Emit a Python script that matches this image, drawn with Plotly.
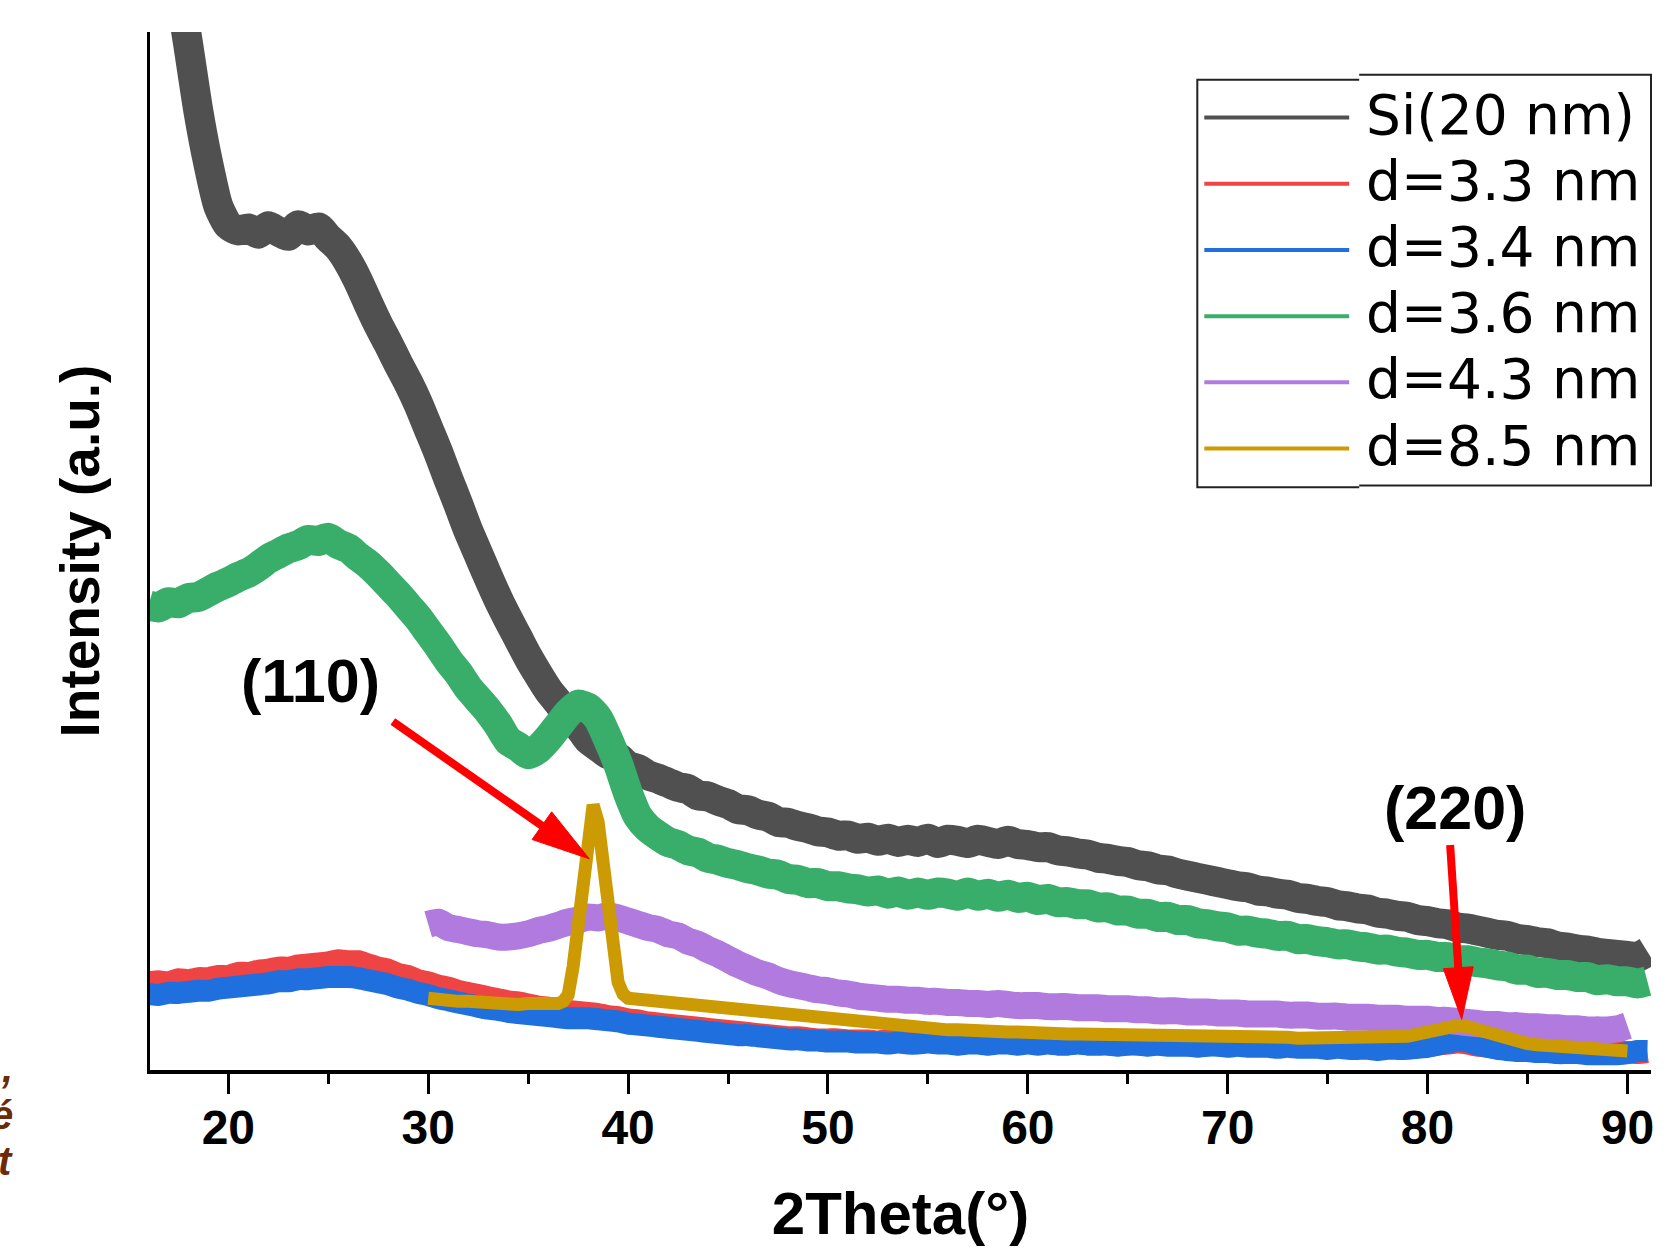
import math
import numpy as np
import plotly.graph_objects as go

# ---------------------------------------------------------------- data ----
# 2-theta grids (degrees)
two_theta = np.arange(16.0, 91.01, 0.5)          # full-range scans
two_theta_30 = np.arange(30.0, 90.01, 0.5)       # scans started at 30 deg
two_theta_85 = np.concatenate([                  # finer steps over the (110) peak
    np.arange(30.0, 36.51, 0.5),
    np.arange(36.75, 39.76, 0.25),
    np.arange(40.0, 90.01, 0.5),
])

# intensities (a.u.)
si_20nm = [
    1200, 1140, 1085, 1030, 970, 908, 858, 818, 800, 795,
    797, 792, 799, 794, 790, 800, 795, 798, 788, 779,
    765, 747, 726, 706, 688, 669, 651, 631, 608, 585,
    560, 536, 511, 489, 467, 446, 427, 409, 391, 375,
    360, 348, 335, 326, 313, 306, 299, 296, 288, 285,
    279, 276, 272, 268, 266, 260, 259, 255, 252, 247,
    246, 242, 240, 235, 234, 231, 229, 226, 225, 222,
    222, 219, 220, 217, 219, 216, 218, 216, 219, 215,
    218, 217, 215, 218, 216, 214, 217, 214, 213, 211,
    211, 208, 207, 205, 204, 201, 200, 198, 197, 194,
    193, 190, 189, 186, 184, 182, 180, 178, 176, 174,
    173, 170, 169, 167, 166, 163, 162, 160, 159, 156,
    155, 153, 152, 149, 148, 146, 145, 142, 141, 139,
    138, 135, 134, 132, 130, 128, 127, 124, 123, 121,
    120, 117, 116, 114, 113, 111, 110, 109, 108, 107,
    112,
]
d_3_3nm = [
    83, 84, 83, 86, 85, 87, 87, 89, 89, 92,
    92, 94, 95, 97, 97, 99, 100, 101, 102, 104,
    103, 103, 100, 97, 95, 91, 89, 85, 83, 80,
    78, 75, 73, 71, 69, 67, 65, 64, 62, 60,
    59, 57, 56, 55, 54, 53, 51, 50, 48, 47,
    45, 44, 43, 42, 41, 40, 39, 38, 37, 36,
    35, 34, 33, 32, 31, 31, 30, 29, 29, 29,
    28, 28, 28, 27, 28, 27, 28, 27, 27, 28,
    27, 26, 27, 27, 26, 27, 27, 26, 27, 26,
    27, 26, 26, 27, 26, 26, 25, 26, 26, 25,
    26, 25, 26, 25, 25, 24, 25, 25, 24, 25,
    24, 24, 24, 23, 24, 23, 23, 23, 22, 23,
    22, 22, 22, 21, 22, 21, 22, 22, 23, 24,
    25, 26, 25, 23, 22, 21, 20, 20, 19, 20,
    19, 19, 18, 19, 18, 18, 17, 17, 17, 16,
    17,
]
d_3_4nm = [
    72, 71, 73, 73, 74, 75, 75, 77, 78, 79,
    80, 81, 82, 84, 84, 86, 86, 87, 88, 88,
    88, 87, 85, 83, 81, 78, 76, 73, 71, 68,
    66, 64, 62, 60, 58, 57, 55, 54, 53, 52,
    51, 50, 49, 49, 49, 48, 47, 46, 44, 43,
    42, 41, 40, 39, 38, 37, 36, 35, 34, 33,
    33, 32, 31, 30, 29, 29, 28, 28, 27, 27,
    27, 26, 26, 26, 25, 26, 25, 25, 26, 25,
    25, 24, 25, 25, 24, 25, 25, 24, 25, 24,
    25, 24, 24, 25, 24, 24, 24, 23, 24, 24,
    23, 24, 23, 23, 23, 22, 23, 23, 22, 23,
    22, 22, 22, 21, 22, 21, 21, 21, 20, 21,
    20, 20, 20, 19, 20, 20, 20, 21, 22, 24,
    26, 28, 27, 24, 22, 20, 19, 18, 18, 17,
    17, 16, 16, 16, 15, 15, 15, 15, 16, 18,
    18,
]
d_3_6nm = [
    440, 438, 443, 442, 447, 448, 453, 458, 462, 467,
    471, 477, 484, 489, 494, 497, 502, 501, 504, 498,
    494, 486, 479, 470, 460, 450, 439, 428, 415, 402,
    388, 376, 362, 351, 340, 327, 312, 306, 299, 304,
    314, 326, 338, 346, 343, 333, 313, 290, 262, 240,
    229, 222, 216, 213, 208, 206, 201, 199, 196, 194,
    191, 189, 186, 185, 181, 180, 177, 177, 174, 174,
    172, 171, 169, 170, 167, 169, 166, 168, 166, 168,
    167, 165, 168, 165, 167, 164, 166, 163, 164, 161,
    162, 159, 159, 157, 157, 154, 154, 151, 151, 148,
    148, 145, 145, 142, 142, 139, 138, 136, 135, 132,
    132, 130, 129, 127, 127, 124, 124, 122, 121, 119,
    119, 117, 116, 114, 114, 112, 111, 109, 109, 107,
    107, 104, 104, 102, 101, 99, 98, 95, 95, 92,
    92, 90, 90, 88, 88, 85, 86, 84, 84, 82,
    84,
]
d_4_3nm = [
    138, 140, 135, 133, 131, 129, 128, 126, 126, 127,
    129, 132, 134, 137, 140, 142, 145, 144, 146, 144,
    141, 138, 135, 133, 129, 127, 122, 119, 114, 110,
    105, 100, 96, 92, 89, 85, 82, 80, 78, 76,
    75, 73, 72, 70, 69, 68, 67, 67, 66, 66,
    65, 65, 64, 64, 63, 63, 62, 63, 62, 61,
    61, 61, 60, 60, 60, 59, 59, 59, 58, 58,
    58, 57, 57, 56, 56, 56, 55, 55, 55, 54,
    54, 54, 53, 53, 53, 53, 52, 52, 52, 51,
    51, 51, 50, 50, 50, 49, 49, 49, 48, 48,
    48, 47, 47, 46, 45, 44, 43, 43, 42, 42,
    41, 41, 40, 40, 39, 39, 38, 38, 38, 39,
    42,
]
d_8_5nm = [
    68, 66, 67, 65, 65, 64, 64, 63, 63, 62, 63, 62, 62, 63,
    65, 71, 98, 138, 178, 218, 251, 235, 193, 153, 113, 83, 72,
    68, 67, 66, 65, 64, 63, 62, 61, 60, 59,
    58, 57, 56, 55, 54, 53, 52, 51, 49, 48,
    47, 46, 45, 44, 43, 42, 42, 41, 40, 40,
    39, 39, 38, 38, 37, 37, 37, 36, 36, 36,
    35, 35, 35, 35, 34, 34, 34, 34, 34, 33,
    33, 33, 33, 33, 33, 32, 32, 32, 32, 32,
    32, 31, 31, 31, 31, 31, 31, 30, 30, 30,
    30, 30, 30, 30, 30, 30, 31, 31, 32, 34,
    36, 38, 41, 42, 41, 38, 34, 31, 28, 27,
    25, 24, 23, 22, 22, 21, 20, 20, 19, 19,
    18,
]

series_names = ["Si(20 nm)", "d=3.3 nm", "d=3.4 nm", "d=3.6 nm", "d=4.3 nm", "d=8.5 nm"]
series_x = [two_theta, two_theta, two_theta, two_theta, two_theta_30, two_theta_85]
series_y = [si_20nm, d_3_3nm, d_3_4nm, d_3_6nm, d_4_3nm, d_8_5nm]

# reflection labels and arrows (tail -> tip) in data units
peak_labels = ["(110)", "(220)"]
peak_label_xy = [(24.1, 368), (81.35, 248)]
peak_arrows = [((28.23, 330), (38.06, 200)), ((81.13, 213), (81.71, 48))]

# ---------------------------------------------------------------- style ---
colors = ["#505050", "#ee4444", "#1f6fde", "#38ae6a", "#b07ade", "#cc9a02"]
widths = [30, 22, 22, 30, 27, 13]
shapes_ = ["spline", "spline", "spline", "spline", "spline", "linear"]

W, H = 1666, 1248
ML, MR, MT, MB = 150, 14, 32, 172
PW, PH = W - ML - MR, H - MT - MB
X_RANGE = [16.08, 91.18]
Y_RANGE = [0, 983]
SX = PW / (X_RANGE[1] - X_RANGE[0])   # px per degree
SY = PH / (Y_RANGE[1] - Y_RANGE[0])   # px per intensity unit


def paper_x(px):
    return (px - ML) / PW


def paper_y(py):
    return (H - MB - py) / PH


fig = go.Figure()
for name, x, y, c, w, s in zip(series_names, series_x, series_y, colors, widths, shapes_):
    fig.add_trace(go.Scatter(
        x=x, y=y, mode="lines", name=name,
        line=dict(color=c, width=w, shape=s, smoothing=0.6), showlegend=False,
    ))

shapes = []
annotations = []


# red arrows: shaft + solid triangular head
def add_arrow(tail, tip, head_len, head_half, shaft_w):
    (x0, y0), (x1, y1) = tail, tip
    dxp, dyp = (x1 - x0) * SX, (y1 - y0) * SY
    n = math.hypot(dxp, dyp)
    ux, uy = dxp / n, dyp / n
    bx, by = x1 - ux * head_len / SX, y1 - uy * head_len / SY
    nx, ny = -uy, ux
    c1 = (bx + nx * head_half / SX, by + ny * head_half / SY)
    c2 = (bx - nx * head_half / SX, by - ny * head_half / SY)
    sx_end, sy_end = x1 - ux * (head_len - 6) / SX, y1 - uy * (head_len - 6) / SY
    shapes.append(dict(type="line", xref="x", yref="y", x0=x0, y0=y0, x1=sx_end, y1=sy_end,
                       line=dict(color="#ff0000", width=shaft_w)))
    shapes.append(dict(type="path", xref="x", yref="y",
                       path=f"M{x1},{y1} L{c1[0]},{c1[1]} L{c2[0]},{c2[1]} Z",
                       fillcolor="#ff0000", line=dict(color="#ff0000", width=1)))


add_arrow(*peak_arrows[0], head_len=58, head_half=17, shaft_w=8)
add_arrow(*peak_arrows[1], head_len=52, head_half=15, shaft_w=8)

for text, (lx, ly) in zip(peak_labels, peak_label_xy):
    annotations.append(dict(x=lx, y=ly, xref="x", yref="y", text=text, showarrow=False,
                            xanchor="center", yanchor="middle",
                            font=dict(family="Liberation Sans, Arial", size=61,
                                      color="black", weight="bold")))

# legend drawn as a framed box with long line samples
shapes.append(dict(type="path", xref="paper", yref="paper",
                   path=(f"M{paper_x(1360)},{paper_y(75)} L{paper_x(1652)},{paper_y(75)} "
                         f"L{paper_x(1652)},{paper_y(488)} L{paper_x(1360)},{paper_y(488)} "
                         f"M{paper_x(1360)},{paper_y(490)} L{paper_x(1198)},{paper_y(490)} "
                         f"L{paper_x(1198)},{paper_y(80)} L{paper_x(1360)},{paper_y(80)}"),
                   line=dict(color="#222222", width=2)))
for i, (name, c) in enumerate(zip(series_names, colors)):
    yl = 118 + i * 66.6
    shapes.append(dict(type="line", xref="paper", yref="paper",
                       x0=paper_x(1205), x1=paper_x(1350), y0=paper_y(yl), y1=paper_y(yl),
                       line=dict(color=c, width=4)))
    annotations.append(dict(x=paper_x(1365), y=paper_y(yl - 3), xref="paper", yref="paper",
                            text=name, showarrow=False, xanchor="left", yanchor="middle",
                            font=dict(family="DejaVu Sans", size=55, color="black")))

# fragments of neighbouring text at the left edge
for txt, yc in [(",", 1074), ("é", 1121), ("t", 1168)]:
    annotations.append(dict(x=paper_x(15), y=paper_y(yc), xref="paper", yref="paper",
                            text=txt, showarrow=False, xanchor="right", yanchor="middle",
                            font=dict(family="Liberation Sans, Arial", size=40,
                                      color="#6b2a0a", weight="bold", style="italic")))

fig.update_layout(
    width=W, height=H,
    margin=dict(l=ML, r=MR, t=MT, b=MB),
    paper_bgcolor="white", plot_bgcolor="white",
    showlegend=False,
    font=dict(family="Liberation Sans, Arial, sans-serif", color="black"),
    xaxis=dict(
        range=X_RANGE, tickmode="linear", tick0=0, dtick=10,
        ticks="outside", ticklen=20, tickwidth=3, tickcolor="black",
        minor=dict(tickmode="linear", tick0=0, dtick=5, ticks="outside",
                   ticklen=10, tickwidth=3, tickcolor="black"),
        showline=True, linewidth=4, linecolor="black",
        showgrid=False, zeroline=False,
        ticklabelstandoff=-8,
        tickfont=dict(size=48, weight="bold", color="black"),
        title=dict(text="2Theta(°)", standoff=40,
                   font=dict(size=60, weight="bold", color="black")),
    ),
    yaxis=dict(
        range=Y_RANGE, showline=True, linewidth=3, linecolor="black",
        showgrid=False, zeroline=False, showticklabels=False, ticks="",
        title=dict(text="Intensity (a.u.)", standoff=30,
                   font=dict(size=55, weight="bold", color="black")),
    ),
    shapes=shapes,
    annotations=annotations,
)

fig.write_html("out.html")
